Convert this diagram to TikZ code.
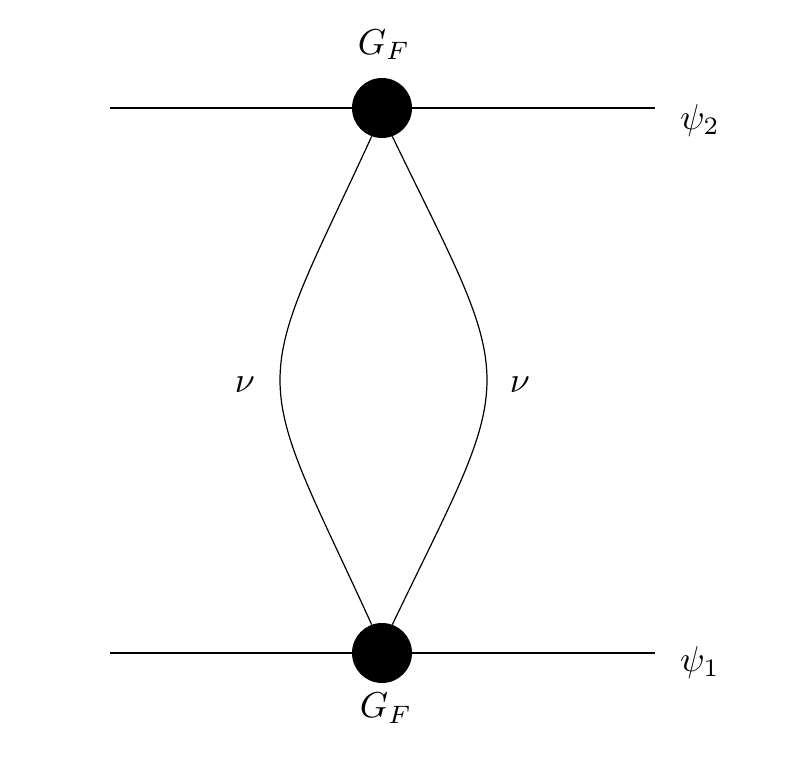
\documentclass[tikz,border=0pt]{standalone}
\usepackage{graphicx}
\begin{document}
\begin{tikzpicture}[x=1pt,y=-1pt,
  vtx/.style={circle,fill=black,minimum size=60pt,inner sep=0pt},
  lbl/.style={inner sep=0pt},
  fermion/.style={line width=2.4pt},
  nu/.style={line width=1.2pt}]
\useasboundingbox (0,0) rectangle (798,771);
\node[vtx] (t) at (382,108) {};
\node[vtx] (b) at (382,653) {};
\coordinate (tl) at (110,108); \coordinate (tr) at (655,108);
\coordinate (bl) at (110,653); \coordinate (br) at (655,653);
\coordinate (ml) at (280,380); \coordinate (mr) at (487,380);
\draw[fermion] (tl) -- (t) -- (tr);
\draw[fermion] (bl) -- (b) -- (br);
\draw[nu] (t.250) .. controls (315,260) and (280,320) .. (ml) .. controls (280,440) and (315,500) .. (b.110);
\draw[nu] (t.290) .. controls (452,260) and (487,320) .. (mr) .. controls (487,440) and (452,500) .. (b.70);
\node[lbl] (gt) at (384,45) {\scalebox{3.6}{$G_F$}};
\node[lbl] (gb) at (386,708) {\scalebox{3.6}{$G_F$}};
\node[lbl] (p2) at (700,120) {\scalebox{3.6}{$\psi_2$}};
\node[lbl] (p1) at (700,662) {\scalebox{3.6}{$\psi_1$}};
\node[lbl] (n1) at (245,385) {\scalebox{3.6}{$\nu$}};
\node[lbl] (n2) at (520,385) {\scalebox{3.6}{$\nu$}};
\end{tikzpicture}
\end{document}
